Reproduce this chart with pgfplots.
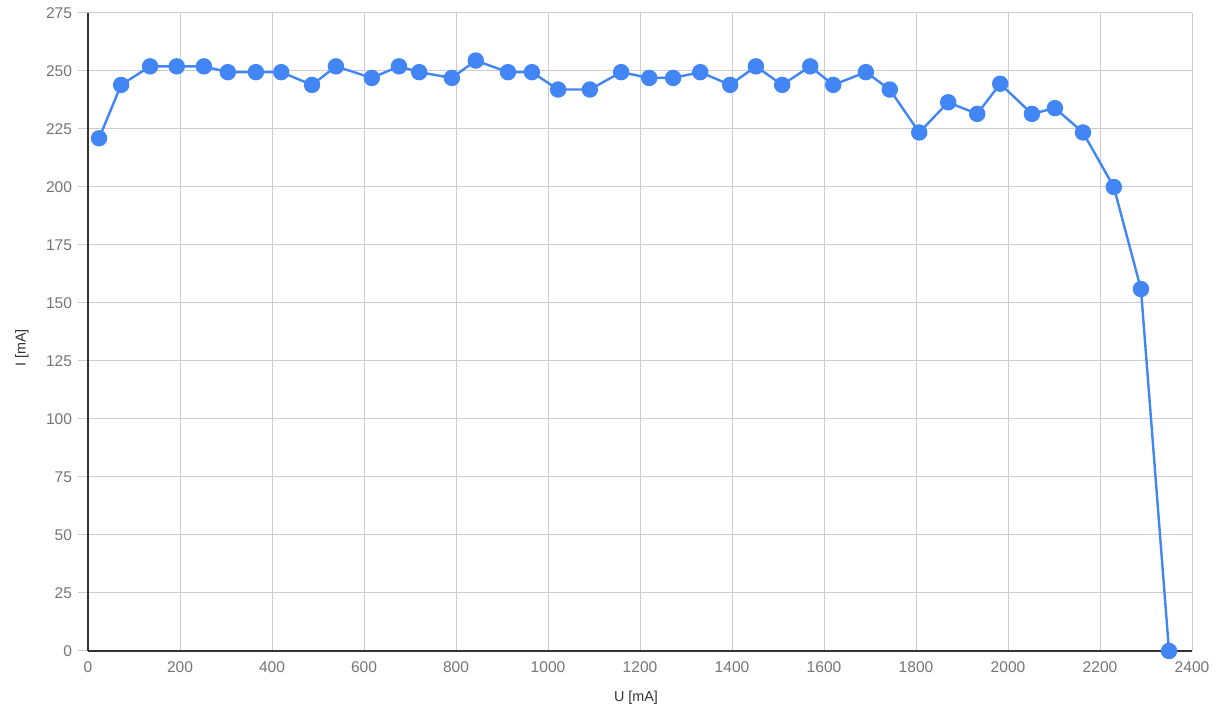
\documentclass[border=0pt]{standalone}
\usepackage{pgfplots}
\pgfplotsset{compat=1.18}
\usepackage{fontspec}
\setmainfont{Liberation Sans}
\definecolor{gblue}{HTML}{4285F4}
\definecolor{ggrid}{HTML}{CCCCCC}
\definecolor{glab}{HTML}{757575}
\definecolor{gaxis}{HTML}{333333}
\begin{document}
\begin{tikzpicture}
\begin{axis}[
  scale only axis,
  width=552bp, height=319bp,
  xmin=0, xmax=2400, ymin=0, ymax=275,
  xtick={0,200,...,2400},
  ytick={0,25,...,275},
  grid=major,
  major grid style={ggrid, line width=0.5bp},
  axis x line=bottom, axis y line=left,
  axis line style={-, gaxis, line width=0.7bp},
  x tick style={draw=none},
  y tick style={ggrid, line width=0.5bp},
  tick align=outside,
  major tick length=5bp,
  font=\fontsize{7.8}{9}\selectfont,
  ticklabel style={text=glab, font=\fontsize{7.8}{9}\selectfont},
  /pgf/number format/assume math mode=true,
  /pgf/number format/1000 sep={},
  xticklabel style={yshift=3bp},
  yticklabel style={xshift=0.5bp},
  xlabel={U [mA]}, ylabel={I [mA]},
  label style={text=gaxis, font=\fontsize{7.2}{9}\selectfont},
  xlabel style={at={(axis description cs:0.5,0)}, anchor=center, yshift=-23.5bp, xshift=-2bp},
  ylabel style={at={(axis description cs:0,0.5)}, anchor=center, rotate=0, yshift=33bp, xshift=-8bp},
  clip=false,
]
\addplot[gblue, line width=1.2bp, mark=*, mark size=3.5bp, mark options={fill=gblue, draw=none}] coordinates {
(24,221) (72,244) (135,252) (193,252) (252,252) (304,249.5) (365,249.5) (420,249.5)
(487,244) (539,252) (617,247) (676,252) (720,249.5) (791,247) (843,254.5)
(913,249.5) (965,249.5) (1022,242) (1091,242) (1159,249.5) (1220,247) (1272,247)
(1331,249.5) (1396,244) (1452,252) (1509,244) (1570,252) (1620,244) (1691,249.5)
(1743,242) (1807,223.5) (1870,236.5) (1933,231.5) (1983,244.5) (2052,231.5)
(2102,234) (2163,223.5) (2230,200) (2289,156) (2350,0)
};
\end{axis}
\path[use as bounding box] ([xshift=-44bp,yshift=-30bp]current axis.south west) rectangle ([xshift=12.5bp,yshift=6.5bp]current axis.north east);
\end{tikzpicture}
\end{document}
